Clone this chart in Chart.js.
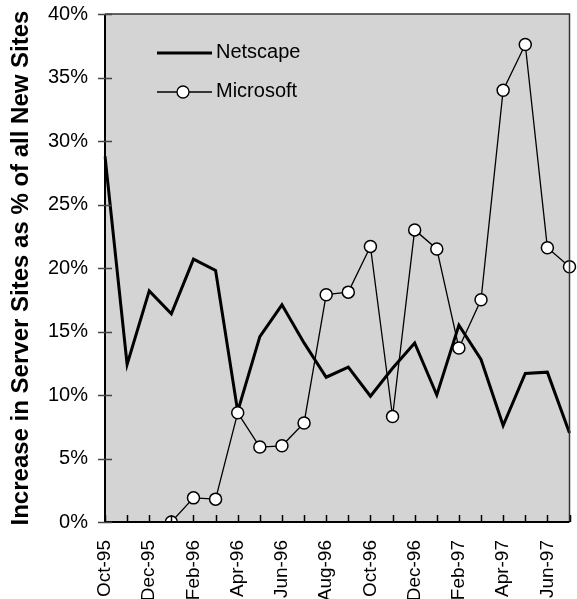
<!DOCTYPE html>
<html>
<head>
<meta charset="utf-8">
<script src="https://cdn.jsdelivr.net/npm/chart.js@4"></script>
<style>
  html, body { margin: 0; padding: 0; background: #fff; }
  canvas { display: block; }
</style>
</head>
<body>
<canvas id="serverChart" width="577" height="599"></canvas>
<script>
// months Oct-95 .. Jul-97
const months = [
  "Oct-95", "Nov-95", "Dec-95", "Jan-96", "Feb-96", "Mar-96", "Apr-96", "May-96",
  "Jun-96", "Jul-96", "Aug-96", "Sep-96", "Oct-96", "Nov-96", "Dec-96", "Jan-97",
  "Feb-97", "Mar-97", "Apr-97", "May-97", "Jun-97", "Jul-97",
];
const netscape = [
  28.8, 12.4, 18.2, 16.4, 20.7, 19.8, 8.7, 14.6, 17.1, 14.1, 11.4,
  12.2, 9.9, 12.1, 14.1, 10.0, 15.5, 12.8, 7.6, 11.7, 11.8, 7.0,
];
const microsoft = [
  null, null, null, 0, 1.9, 1.8, 8.6, 5.9, 6.0, 7.8, 17.9,
  18.1, 21.7, 8.3, 23.0, 21.5, 13.7, 17.5, 34.0, 37.6, 21.6, 20.1,
];
const yTicks = [0, 5, 10, 15, 20, 25, 30, 35, 40];

const fontFamily = "'Liberation Sans', Arial, sans-serif";

// background, frame, ticks and legend
const frame = {
  id: "frame",
  beforeDraw(chart) {
    const { ctx, chartArea: a } = chart;
    ctx.save();
    ctx.fillStyle = "#d4d4d4";
    ctx.fillRect(a.left, a.top, a.right - a.left, a.bottom - a.top);
    ctx.restore();
  },
  afterDraw(chart) {
    const { ctx, chartArea: a, scales } = chart;
    ctx.save();
    // top/right border
    ctx.strokeStyle = "#333";
    ctx.lineWidth = 1.5;
    ctx.beginPath();
    ctx.moveTo(a.left, a.top);
    ctx.lineTo(a.right, a.top);
    ctx.lineTo(a.right, a.bottom);
    ctx.stroke();
    // axes
    ctx.strokeStyle = "#000";
    ctx.lineWidth = 2;
    ctx.beginPath();
    ctx.moveTo(a.left, a.top);
    ctx.lineTo(a.left, a.bottom);
    ctx.lineTo(a.right, a.bottom);
    ctx.stroke();
    // y ticks cross the axis
    ctx.strokeStyle = "#444";
    ctx.lineWidth = 1.5;
    yTicks.forEach(v => {
      const y = Math.round(scales.y.getPixelForValue(v)) + 0.5;
      ctx.beginPath();
      ctx.moveTo(a.left - 7, y);
      ctx.lineTo(a.left + 7, y);
      ctx.stroke();
    });
    // x ticks inside
    ctx.strokeStyle = "#000";
    months.forEach((m, i) => {
      const x = Math.round(scales.x.getPixelForValue(i)) + 0.5;
      ctx.beginPath();
      ctx.moveTo(x, a.bottom);
      ctx.lineTo(x, a.bottom - 7);
      ctx.stroke();
    });
    // legend
    const lx = a.left + 52, lw = 55;
    ctx.font = "20px " + fontFamily;
    ctx.fillStyle = "#000";
    ctx.textBaseline = "middle";
    ctx.lineWidth = 3;
    ctx.beginPath();
    ctx.moveTo(lx, 53);
    ctx.lineTo(lx + lw, 53);
    ctx.stroke();
    ctx.fillText(chart.data.datasets[0].label, lx + lw + 4, 52);
    ctx.lineWidth = 1.3;
    ctx.beginPath();
    ctx.moveTo(lx, 92);
    ctx.lineTo(lx + lw, 92);
    ctx.stroke();
    ctx.beginPath();
    ctx.arc(lx + 26, 92, 6, 0, Math.PI * 2);
    ctx.fillStyle = "#fff";
    ctx.fill();
    ctx.stroke();
    ctx.fillStyle = "#000";
    ctx.fillText(chart.data.datasets[1].label, lx + lw + 4, 91);
    ctx.restore();
  },
};

new Chart(document.getElementById("serverChart"), {
  type: "line",
  data: {
    labels: months,
    datasets: [
      {
        label: "Netscape",
        data: netscape,
        borderColor: "#000",
        borderWidth: 3,
        pointRadius: 0,
        tension: 0,
        order: 2,
      },
      {
        label: "Microsoft",
        data: microsoft,
        borderColor: "#000",
        borderWidth: 1.3,
        pointRadius: 6,
        pointBackgroundColor: "#fff",
        pointBorderColor: "#000",
        pointBorderWidth: 1.5,
        tension: 0,
        spanGaps: false,
        order: 1,
      },
    ],
  },
  options: {
    responsive: false,
    animation: false,
    layout: { padding: { top: 14, right: 0, left: 0, bottom: 0 } },
    scales: {
      x: {
        offset: false,
        grid: { display: false },
        border: { display: false },
        afterFit: function (scale) {
          scale.height = 77;
          scale.paddingLeft = 0;
          scale.paddingRight = 0;
        },
        ticks: {
          autoSkip: false,
          maxRotation: 90,
          minRotation: 90,
          padding: 10,
          color: "#000",
          font: { size: 19, family: fontFamily },
          callback: function (value, index) {
            return index % 2 === 0 ? months[index] : "";
          },
        },
      },
      y: {
        min: 0,
        max: 40,
        grid: { display: false },
        border: { display: false },
        afterFit: function (scale) {
          scale.width = 105;
          scale.paddingTop = 0;
          scale.paddingBottom = 0;
        },
        ticks: {
          stepSize: 5,
          padding: 9,
          color: "#000",
          font: { size: 20, family: fontFamily },
          callback: function (value) {
            return value + "%";
          },
        },
        title: {
          display: true,
          text: "Increase in Server Sites as % of all New Sites",
          color: "#000",
          font: { size: 24, weight: "bold", family: fontFamily },
          padding: { top: 7, bottom: 0 },
        },
      },
    },
    plugins: {
      legend: { display: false },
      tooltip: { enabled: false },
    },
  },
  plugins: [frame],
});
</script>
</body>
</html>
